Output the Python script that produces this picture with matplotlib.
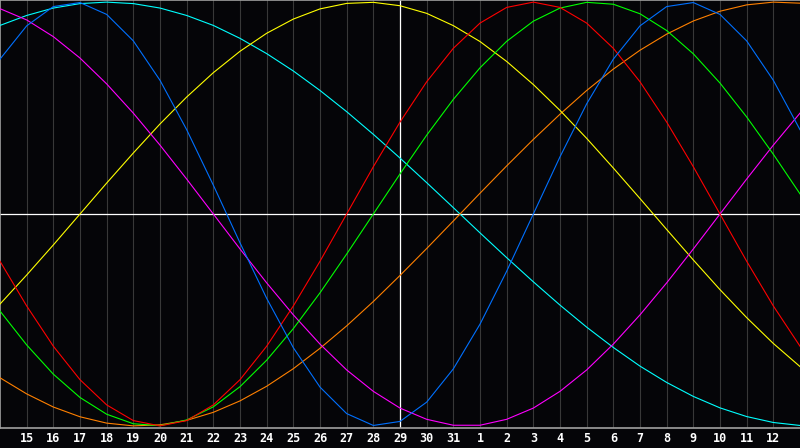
import numpy as np
import matplotlib
matplotlib.use("Agg")
import matplotlib.pyplot as plt

# day labels under each grid line (index 0 = the 14th, left edge)
days = [14, 15, 16, 17, 18, 19, 20, 21, 22, 23, 24, 25, 26, 27, 28, 29, 30, 31,
        1, 2, 3, 4, 5, 6, 7, 8, 9, 10, 11, 12, 13]
today_idx = 15  # the 29th

# cycle values, one per day (-1 .. 1)
blue = [0.731, 0.888, 0.979, 0.998, 0.942, 0.817, 0.631, 0.398, 0.136, -0.136,
        -0.398, -0.631, -0.817, -0.942, -0.998, -0.979, -0.888, -0.731, -0.520, -0.270,
        0.0, 0.270, 0.520, 0.731, 0.888, 0.979, 0.998, 0.942, 0.817, 0.631, 0.398]
red = [-0.223, -0.434, -0.624, -0.782, -0.901, -0.975, -1.0, -0.975, -0.901, -0.782,
       -0.624, -0.434, -0.223, 0.0, 0.223, 0.434, 0.624, 0.782, 0.901, 0.975,
       1.0, 0.975, 0.901, 0.782, 0.624, 0.434, 0.223, 0.0, -0.223, -0.434, -0.624]
green = [-0.458, -0.618, -0.756, -0.866, -0.945, -0.990, -0.999, -0.972, -0.910, -0.815,
         -0.690, -0.541, -0.372, -0.189, 0.0, 0.189, 0.372, 0.541, 0.690, 0.815,
         0.910, 0.972, 0.999, 0.990, 0.945, 0.866, 0.756, 0.618, 0.458, 0.282, 0.095]
magenta = [0.969, 0.916, 0.837, 0.736, 0.614, 0.476, 0.325, 0.165, 0.0, -0.165,
           -0.325, -0.476, -0.614, -0.736, -0.837, -0.916, -0.969, -0.997, -0.997, -0.969,
           -0.916, -0.837, -0.736, -0.614, -0.476, -0.325, -0.165, 0.0, 0.165, 0.325, 0.476]
yellow = [-0.425, -0.288, -0.146, 0.0, 0.146, 0.288, 0.425, 0.552, 0.667, 0.768,
          0.853, 0.920, 0.968, 0.994, 0.999, 0.983, 0.947, 0.889, 0.814, 0.720,
          0.611, 0.489, 0.357, 0.217, 0.073, -0.073, -0.217, -0.357, -0.489, -0.611, -0.720]
orange = [-0.773, -0.849, -0.911, -0.957, -0.987, -1.0, -0.995, -0.974, -0.936, -0.882,
          -0.813, -0.730, -0.634, -0.528, -0.413, -0.290, -0.163, -0.033, 0.098, 0.227,
          0.352, 0.471, 0.583, 0.684, 0.773, 0.849, 0.911, 0.957, 0.987, 1.0, 0.995]
cyan = [0.890, 0.937, 0.972, 0.993, 1.0, 0.993, 0.972, 0.937, 0.890, 0.829,
        0.757, 0.675, 0.583, 0.483, 0.376, 0.264, 0.148, 0.030, -0.089, -0.206,
        -0.320, -0.430, -0.534, -0.630, -0.718, -0.795, -0.861, -0.915, -0.956, -0.984, -0.998]

series = [
    (cyan, "#00ffff"),
    (orange, "#ff8000"),
    (yellow, "#ffff00"),
    (magenta, "#ff00ff"),
    (green, "#00ff00"),
    (red, "#ff0000"),
    (blue, "#0070ff"),
]

bg = "#050508"
fig = plt.figure(figsize=(8, 4.48), dpi=100, facecolor=bg)
ax = fig.add_axes([0, 20 / 448, 1, 428 / 448], facecolor=bg)

x = np.arange(len(days))

# day grid
for i in x[1:-1]:
    ax.axvline(i, color="#383838", lw=0.8, zorder=1)

# today + zero line
ax.axhline(0, color="white", lw=0.9, zorder=2)
ax.axvline(today_idx, color="white", lw=0.9, zorder=2)

for vals, col in series:
    ax.plot(x, vals, color=col, lw=0.8, zorder=3, solid_joinstyle="round")

ax.set_xlim(0, len(days) - 1)
ax.set_ylim(-1.01, 1.01)
ax.set_xticks([])
ax.set_yticks([])
for side in ["left", "top", "bottom"]:
    ax.spines[side].set_color("#a0a0a0")
    ax.spines[side].set_linewidth(1.2)
ax.spines["right"].set_visible(False)

# labels under the grid lines
for i in x[1:-1]:
    fig.text(i / (len(days) - 1), 9.5 / 448, str(days[i]), color="white",
             fontsize=8.5, fontweight="bold", family="DejaVu Sans Mono",
             ha="center", va="center")

fig.savefig("out.png", dpi=100, facecolor=bg)
